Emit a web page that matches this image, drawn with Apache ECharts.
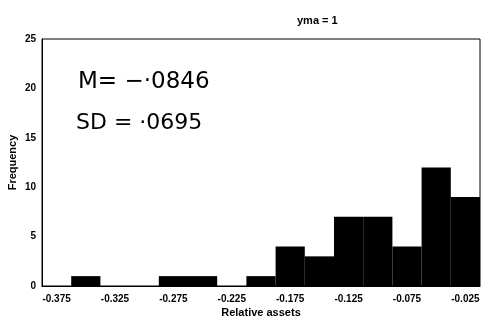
<!DOCTYPE html>
<html>
<head>
<meta charset="utf-8">
<script src="https://cdn.jsdelivr.net/npm/echarts@6/dist/echarts.min.js"></script>
<style>
	html, body { margin: 0; padding: 0; background: #fff; }
	#main { width: 481px; height: 329px; }
</style>
</head>
<body>
<div id="main"></div>
<script>
	// bins of relative assets (width 0.025)
	var bins = ['-0.375', '-0.350', '-0.325', '-0.300', '-0.275', '-0.250', '-0.225', '-0.200',
		'-0.175', '-0.150', '-0.125', '-0.100', '-0.075', '-0.050', '-0.025']
	var freq = [0, 1, 0, 0, 1, 1, 0, 1, 4, 3, 7, 7, 4, 12, 9]
	var yTicks = [0, 5, 10, 15, 20, 25]

	var myChart = echarts.init(document.getElementById('main'))
	var font = 'Liberation Sans, Arial, sans-serif'

	var option = {
		animation: false,
		title: {
			text: 'yma = 1',
			left: 292,
			top: 10,
			textStyle: { fontFamily: font, fontSize: 11, fontWeight: 'bold', color: '#000' }
		},
		grid: {
			left: 42, right: 1, top: 39, bottom: 43,
			outerBoundsMode: 'none',
			show: true, borderColor: '#000', borderWidth: 1
		},
		xAxis: {
			type: 'category',
			data: bins,
			name: 'Relative assets',
			nameLocation: 'middle',
			nameGap: 21,
			nameMoveOverlap: false,
			nameTextStyle: { fontFamily: font, fontSize: 11, fontWeight: 'bold', color: '#000' },
			axisLine: { lineStyle: { color: '#000' } },
			axisTick: { show: false },
			axisLabel: {
				interval: 1,
				margin: 8,
				fontFamily: font, fontSize: 10, fontWeight: 'bold', color: '#000'
			}
		},
		yAxis: {
			type: 'value',
			min: yTicks[0],
			max: yTicks[yTicks.length - 1],
			interval: 5,
			name: 'Frequency',
			nameLocation: 'middle',
			nameGap: 24,
			nameMoveOverlap: false,
			nameTextStyle: { fontFamily: font, fontSize: 11, fontWeight: 'bold', color: '#000' },
			axisLine: { show: true, lineStyle: { color: '#000' } },
			axisTick: { show: false },
			splitLine: { show: false },
			axisLabel: { margin: 6, fontFamily: font, fontSize: 10, fontWeight: 'bold', color: '#000' }
		},
		graphic: [
			{
				type: 'text', left: 78, top: 71,
				style: { text: 'M= −·0846', fontFamily: 'DejaVu Sans', fontSize: 23, fill: '#000' }
			},
			{
				type: 'text', left: 76, top: 112,
				style: { text: 'SD = ·0695', fontFamily: 'DejaVu Sans', fontSize: 22, fill: '#000' }
			}
		],
		series: [{
			type: 'bar',
			data: freq,
			barCategoryGap: '0%',
			itemStyle: { color: '#000' }
		}]
	}

	myChart.setOption(option, true)
</script>
</body>
</html>
